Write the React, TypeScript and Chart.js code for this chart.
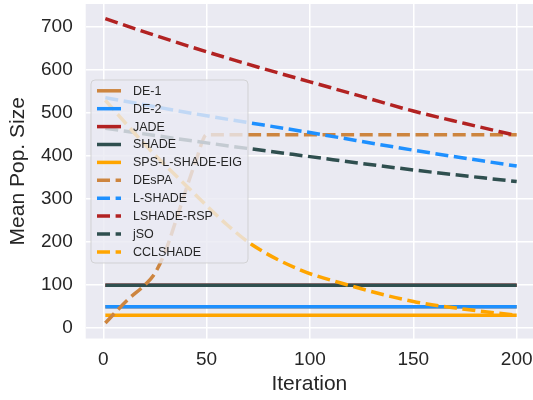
import React, { useEffect, useRef } from "react";
import { Chart, registerables } from "chart.js";

Chart.register(...registerables);

const FONT = "'Liberation Sans', Arial, sans-serif";
const TEXT = "#262626";

// Series (x = iteration, y = mean population size)
const constX = [1, 200];
const de1 = [50, 50];
const de2 = [50, 50];
const jade = [100, 100];
const shade = [100, 100];
const spsLShadeEig = [30, 30];

const despaX = [1, 12, 20, 25, 30, 35, 40, 45, 50, 100, 150, 200];
const despaY = [12, 67, 100, 128, 178, 248, 322, 392, 450, 450, 450, 450];

const lshadeX = [1, 50, 100, 150, 200];
const lshadeY = [536, 494, 455, 414, 377];

const rspX = [1, 25, 50, 75, 100, 125, 150, 175, 200];
const rspY = [720, 681, 643, 607, 573, 539, 505, 476, 448];

const jsoX = [1, 50, 100, 150, 200];
const jsoY = [465, 431, 399, 368, 341];

const cclX = [1, 20, 40, 60, 72, 95, 115, 150, 175, 200];
const cclY = [530, 428, 332, 240, 194, 136, 105, 62, 44, 30];

const xTicksStep = 50;
const yTicksStep = 100;

const pts = (xs: number[], ys: number[]) => xs.map((x, i) => ({ x, y: ys[i] }));

const DASH = [13, 5.6];
const LW = 3.5;

const seriesDefs = [
  { label: "DE-1", color: "#CD853F", dashed: false, data: pts(constX, de1) },
  { label: "DE-2", color: "#1E90FF", dashed: false, data: pts(constX, de2) },
  { label: "JADE", color: "#B22222", dashed: false, data: pts(constX, jade) },
  { label: "SHADE", color: "#2F4F4F", dashed: false, data: pts(constX, shade) },
  { label: "SPS-L-SHADE-EIG", color: "#FFA500", dashed: false, data: pts(constX, spsLShadeEig) },
  { label: "DEsPA", color: "#CD853F", dashed: true, data: pts(despaX, despaY) },
  { label: "L-SHADE", color: "#1E90FF", dashed: true, data: pts(lshadeX, lshadeY) },
  { label: "LSHADE-RSP", color: "#B22222", dashed: true, data: pts(rspX, rspY) },
  { label: "jSO", color: "#2F4F4F", dashed: true, data: pts(jsoX, jsoY) },
  { label: "CCLSHADE", color: "#FFA500", dashed: true, data: pts(cclX, cclY) },
];

const bgPlugin = {
  id: "bgPlugin",
  beforeDraw(chart: any) {
    const { ctx, chartArea: a } = chart;
    ctx.save();
    ctx.fillStyle = "#EAEAF2";
    ctx.fillRect(a.left, a.top, a.right - a.left, a.bottom - a.top);
    ctx.restore();
  },
};

const legendPlugin = {
  id: "insideLegend",
  afterDatasetsDraw(chart: any) {
    const { ctx } = chart;
    const x0 = 91, y0 = 80, w = 157, h = 183, r = 4;
    ctx.save();
    ctx.beginPath();
    ctx.moveTo(x0 + r, y0);
    ctx.lineTo(x0 + w - r, y0);
    ctx.arcTo(x0 + w, y0, x0 + w, y0 + r, r);
    ctx.lineTo(x0 + w, y0 + h - r);
    ctx.arcTo(x0 + w, y0 + h, x0 + w - r, y0 + h, r);
    ctx.lineTo(x0 + r, y0 + h);
    ctx.arcTo(x0, y0 + h, x0, y0 + h - r, r);
    ctx.lineTo(x0, y0 + r);
    ctx.arcTo(x0, y0, x0 + r, y0, r);
    ctx.closePath();
    ctx.fillStyle = "rgba(234,234,242,0.8)";
    ctx.fill();
    ctx.strokeStyle = "rgba(204,204,204,0.8)";
    ctx.lineWidth = 1;
    ctx.stroke();

    ctx.font = `12.5px ${FONT}`;
    ctx.textBaseline = "middle";
    ctx.textAlign = "left";
    seriesDefs.forEach((s, i) => {
      const y = 90.8 + i * 17.9;
      ctx.beginPath();
      ctx.strokeStyle = s.color;
      ctx.lineWidth = LW;
      ctx.lineCap = "butt";
      ctx.setLineDash(s.dashed ? DASH : []);
      ctx.moveTo(97, y);
      ctx.lineTo(121, y);
      ctx.stroke();
      ctx.setLineDash([]);
      ctx.fillStyle = TEXT;
      ctx.fillText(s.label, 133, y + 0.5);
    });
    ctx.restore();
  },
};

export default function App() {
  const ref = useRef<HTMLCanvasElement | null>(null);

  useEffect(() => {
    if (!ref.current) return;
    const n = seriesDefs.length;
    const chart = new Chart(ref.current, {
      type: "line",
      data: {
        datasets: seriesDefs.map((s, i) => ({
          label: s.label,
          data: s.data,
          borderColor: s.color,
          backgroundColor: s.color,
          borderWidth: LW,
          borderDash: s.dashed ? DASH : [],
          borderCapStyle: "butt",
          pointRadius: 0,
          fill: false,
          cubicInterpolationMode: "monotone",
          order: n - i,
        })),
      },
      options: {
        animation: false,
        responsive: false,
        maintainAspectRatio: false,
        layout: { padding: { left: 0, right: 0, top: 4, bottom: 0 } },
        plugins: {
          legend: { display: false },
          tooltip: { enabled: false },
        },
        scales: {
          x: {
            type: "linear",
            min: -8.5,
            max: 207.9,
            afterFit: (scale: any) => {
              scale.height = 61.5;
              scale.paddingLeft = 0;
              scale.paddingRight = 0;
            },
            border: { display: false },
            grid: { color: "#FFFFFF", lineWidth: 1.5, drawTicks: false },
            ticks: {
              stepSize: xTicksStep,
              includeBounds: false,
              color: TEXT,
              font: { family: FONT, size: 19 },
              padding: 10,
              maxRotation: 0,
            },
            title: {
              display: true,
              text: "Iteration",
              color: TEXT,
              font: { family: FONT, size: 21 },
              padding: { top: 0, bottom: 3 },
            },
          },
          y: {
            type: "linear",
            min: -24,
            max: 754,
            afterFit: (scale: any) => {
              scale.width = 85.7;
              scale.paddingTop = 0;
              scale.paddingBottom = 0;
            },
            border: { display: false },
            grid: { color: "#FFFFFF", lineWidth: 1.5, drawTicks: false },
            ticks: {
              stepSize: yTicksStep,
              includeBounds: false,
              color: TEXT,
              font: { family: FONT, size: 19 },
              padding: 13,
            },
            title: {
              display: true,
              text: "Mean Pop. Size",
              color: TEXT,
              font: { family: FONT, size: 21 },
              padding: { top: 6, bottom: 0 },
            },
          },
        },
      } as any,
      plugins: [bgPlugin, legendPlugin],
    });
    return () => chart.destroy();
  }, []);

  return (
    <div style={{ position: "fixed", left: 0, top: 0, width: 533, height: 400, background: "#FFFFFF" }}>
      <canvas ref={ref} width={533} height={400} style={{ display: "block" }} />
    </div>
  );
}
